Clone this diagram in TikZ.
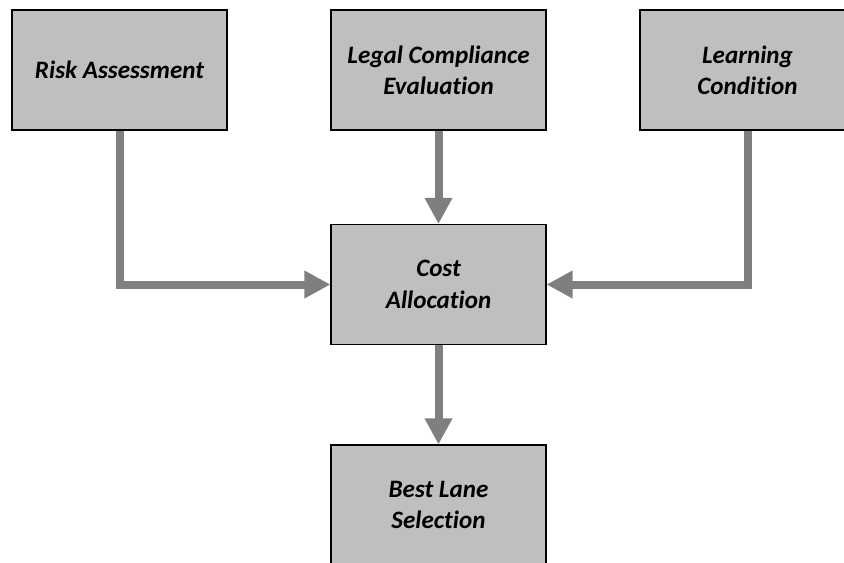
\documentclass[tikz,border=0pt]{standalone}
\usepackage{fontspec}
\newfontfamily\carl[RawFeature={-liga;-clig;-calt;-dlig;-rlig}]{Carlito}
\usetikzlibrary{arrows.meta}
\definecolor{boxfill}{HTML}{BFBFBF}
\definecolor{linkgray}{HTML}{7F7F7F}
\begin{document}
\begin{tikzpicture}[x=0.75pt,y=-0.75pt,
  blockbox/.style={draw=black,line width=0.8pt,fill=boxfill,minimum width=161.25pt,minimum height=90pt,
    inner sep=0pt,align=center,font=\carl\bfseries\itshape\fontsize{18.8}{23.5}\selectfont},
  link/.style={draw=linkgray,line width=6pt,-{Triangle[length=19.5pt,width=19.5pt]}}]
\useasboundingbox (0,0) rectangle (844,562);
\node[blockbox] (risk) at (119.5,70) {Risk Assessment};
\node[blockbox] (legal) at (438.5,70) {Legal Compliance\\Evaluation};
\node[blockbox] (learn) at (747.5,70) {Learning\\Condition};
\node[blockbox] (cost) at (438.5,284.5) {Cost\\Allocation};
\node[blockbox] (best) at (438.5,505) {Best Lane\\Selection};
\draw[link] (risk.south) |- (cost.west);
\draw[link] (learn.south) |- (cost.east);
\draw[link] (legal.south) -- (cost.north);
\draw[link] (cost.south) -- (best.north);
\end{tikzpicture}
\end{document}
